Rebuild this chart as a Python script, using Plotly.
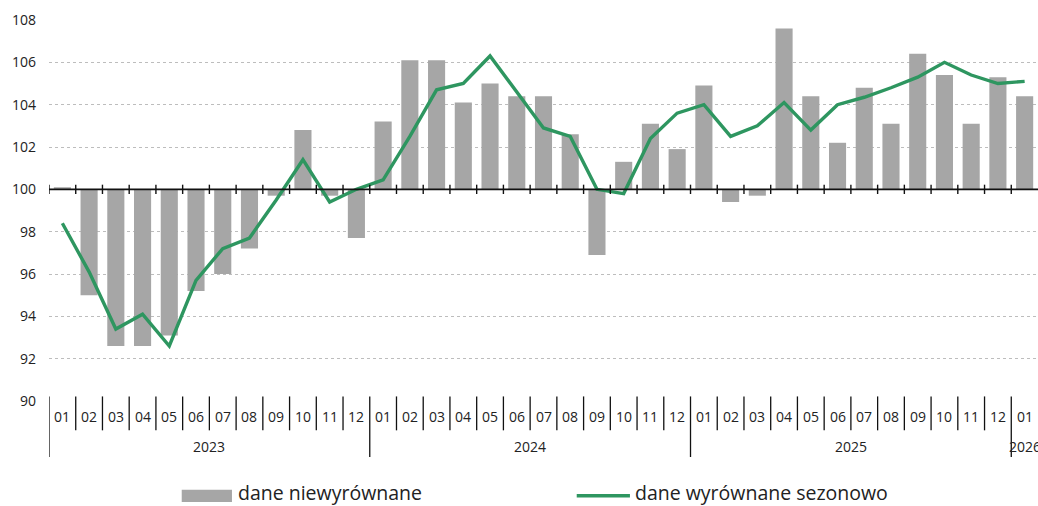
import plotly.graph_objects as go

months = ["01", "02", "03", "04", "05", "06", "07", "08", "09", "10", "11", "12"] * 3 + ["01"]
years = ["2023", "2024", "2025", "2026"]
year_start_idx = [0, 12, 24, 36]
year_len = [12, 12, 12, 1]

unadjusted = [100.1, 95.0, 92.6, 92.6, 93.1, 95.2, 96.0, 97.2, 99.7, 102.8, 99.7, 97.7,
              103.2, 106.1, 106.1, 104.1, 105.0, 104.4, 104.4, 102.6, 96.9, 101.3, 103.1, 101.9,
              104.9, 99.4, 99.7, 107.6, 104.4, 102.2, 104.8, 103.1, 106.4, 105.4, 103.1, 105.3,
              104.4]
seasonal = [98.4, 96.1, 93.4, 94.1, 92.6, 95.7, 97.2, 97.7, 99.5, 101.4, 99.4, 100.0,
            100.45, 102.5, 104.7, 105.0, 106.3, 104.6, 102.9, 102.5, 100.0, 99.8, 102.4, 103.6,
            104.0, 102.5, 103.0, 104.1, 102.8, 104.0, 104.35, 104.8, 105.3, 106.0, 105.4, 105.0,
            105.1]
legend_names = ["dane niewyrównane", "dane wyrównane sezonowo"]

BASE = 100
BAR_COLOR = "#a6a6a6"
LINE_COLOR = "#2e9660"
FONT = "Open Sans"
TEXT = "#222222"

n = len(months)
xs = list(range(n))

fig = go.Figure()
fig.add_trace(go.Bar(
    x=xs, y=[v - BASE for v in unadjusted], base=BASE,
    marker=dict(color=BAR_COLOR, line=dict(width=0)),
    width=0.64, name=legend_names[0], showlegend=False,
))
fig.add_trace(go.Scatter(
    x=xs, y=seasonal, mode="lines",
    line=dict(color=LINE_COLOR, width=3.4),
    name=legend_names[1], showlegend=False,
))

shapes = []
annotations = []

# baseline at 100 with crossing ticks
shapes.append(dict(type="line", xref="paper", yref="y", x0=0, x1=1, y0=BASE, y1=BASE,
                   line=dict(color="#111111", width=1.6), layer="above"))
for k in range(n):
    shapes.append(dict(type="line", xref="x", yref="y", x0=k - 0.5, x1=k - 0.5,
                       y0=BASE - 0.22, y1=BASE + 0.22,
                       line=dict(color="#111111", width=1.4), layer="above"))

# category axis separators
for k in range(n):
    long = k in year_start_idx
    shapes.append(dict(type="line", xref="x", yref="paper", x0=k - 0.5, x1=k - 0.5,
                       y0=0.012, y1=(-0.147 if long else -0.077),
                       line=dict(color="#111111", width=1.3)))

for k, m in enumerate(months):
    annotations.append(dict(x=k, y=-0.041, xref="x", yref="paper", text=m, showarrow=False,
                            font=dict(family=FONT, size=14, color=TEXT),
                            xanchor="center", yanchor="middle"))
for yr, s, L in zip(years, year_start_idx, year_len):
    annotations.append(dict(x=s + (L - 1) / 2, y=-0.12, xref="x", yref="paper", text=yr,
                            showarrow=False, font=dict(family=FONT, size=14, color=TEXT),
                            xanchor="center", yanchor="middle"))

# manual legend
LEG_Y = -0.241
shapes.append(dict(type="rect", xref="paper", yref="paper", x0=0.1342, x1=0.185,
                   y0=-0.233, y1=-0.265, fillcolor=BAR_COLOR, line=dict(width=0)))
annotations.append(dict(x=0.190, y=LEG_Y, xref="paper", yref="paper", text=legend_names[0],
                        showarrow=False, xanchor="left", yanchor="middle", borderpad=0,
                        font=dict(family=FONT, size=19.5, color=TEXT)))
shapes.append(dict(type="line", xref="paper", yref="paper", x0=0.5336, x1=0.5874,
                   y0=-0.249, y1=-0.249, line=dict(color=LINE_COLOR, width=3.5)))
annotations.append(dict(x=0.592, y=LEG_Y, xref="paper", yref="paper", text=legend_names[1],
                        showarrow=False, xanchor="left", yanchor="middle", borderpad=0,
                        font=dict(family=FONT, size=19.5, color=TEXT)))

fig.update_layout(
    width=1038, height=506,
    margin=dict(l=49, r=0, t=20, b=105),
    paper_bgcolor="white", plot_bgcolor="white",
    font=dict(family=FONT, size=14, color=TEXT),
    shapes=shapes, annotations=annotations,
    showlegend=False,
)
fig.update_xaxes(range=[-0.5, n - 0.5], showticklabels=False, showgrid=False,
                 zeroline=False, showline=False, ticks="")
fig.update_yaxes(range=[90, 108], dtick=2, tick0=90, showgrid=True,
                 gridcolor="#bdbdbd", griddash="dot", gridwidth=1,
                 zeroline=False, showline=False, ticks="",
                 ticklabelstandoff=12,
                 tickfont=dict(family=FONT, size=14, color=TEXT))

fig.write_html("out.html", config={"displayModeBar": False},
               post_script="document.body.style.margin='0';document.body.style.overflow='hidden';")
